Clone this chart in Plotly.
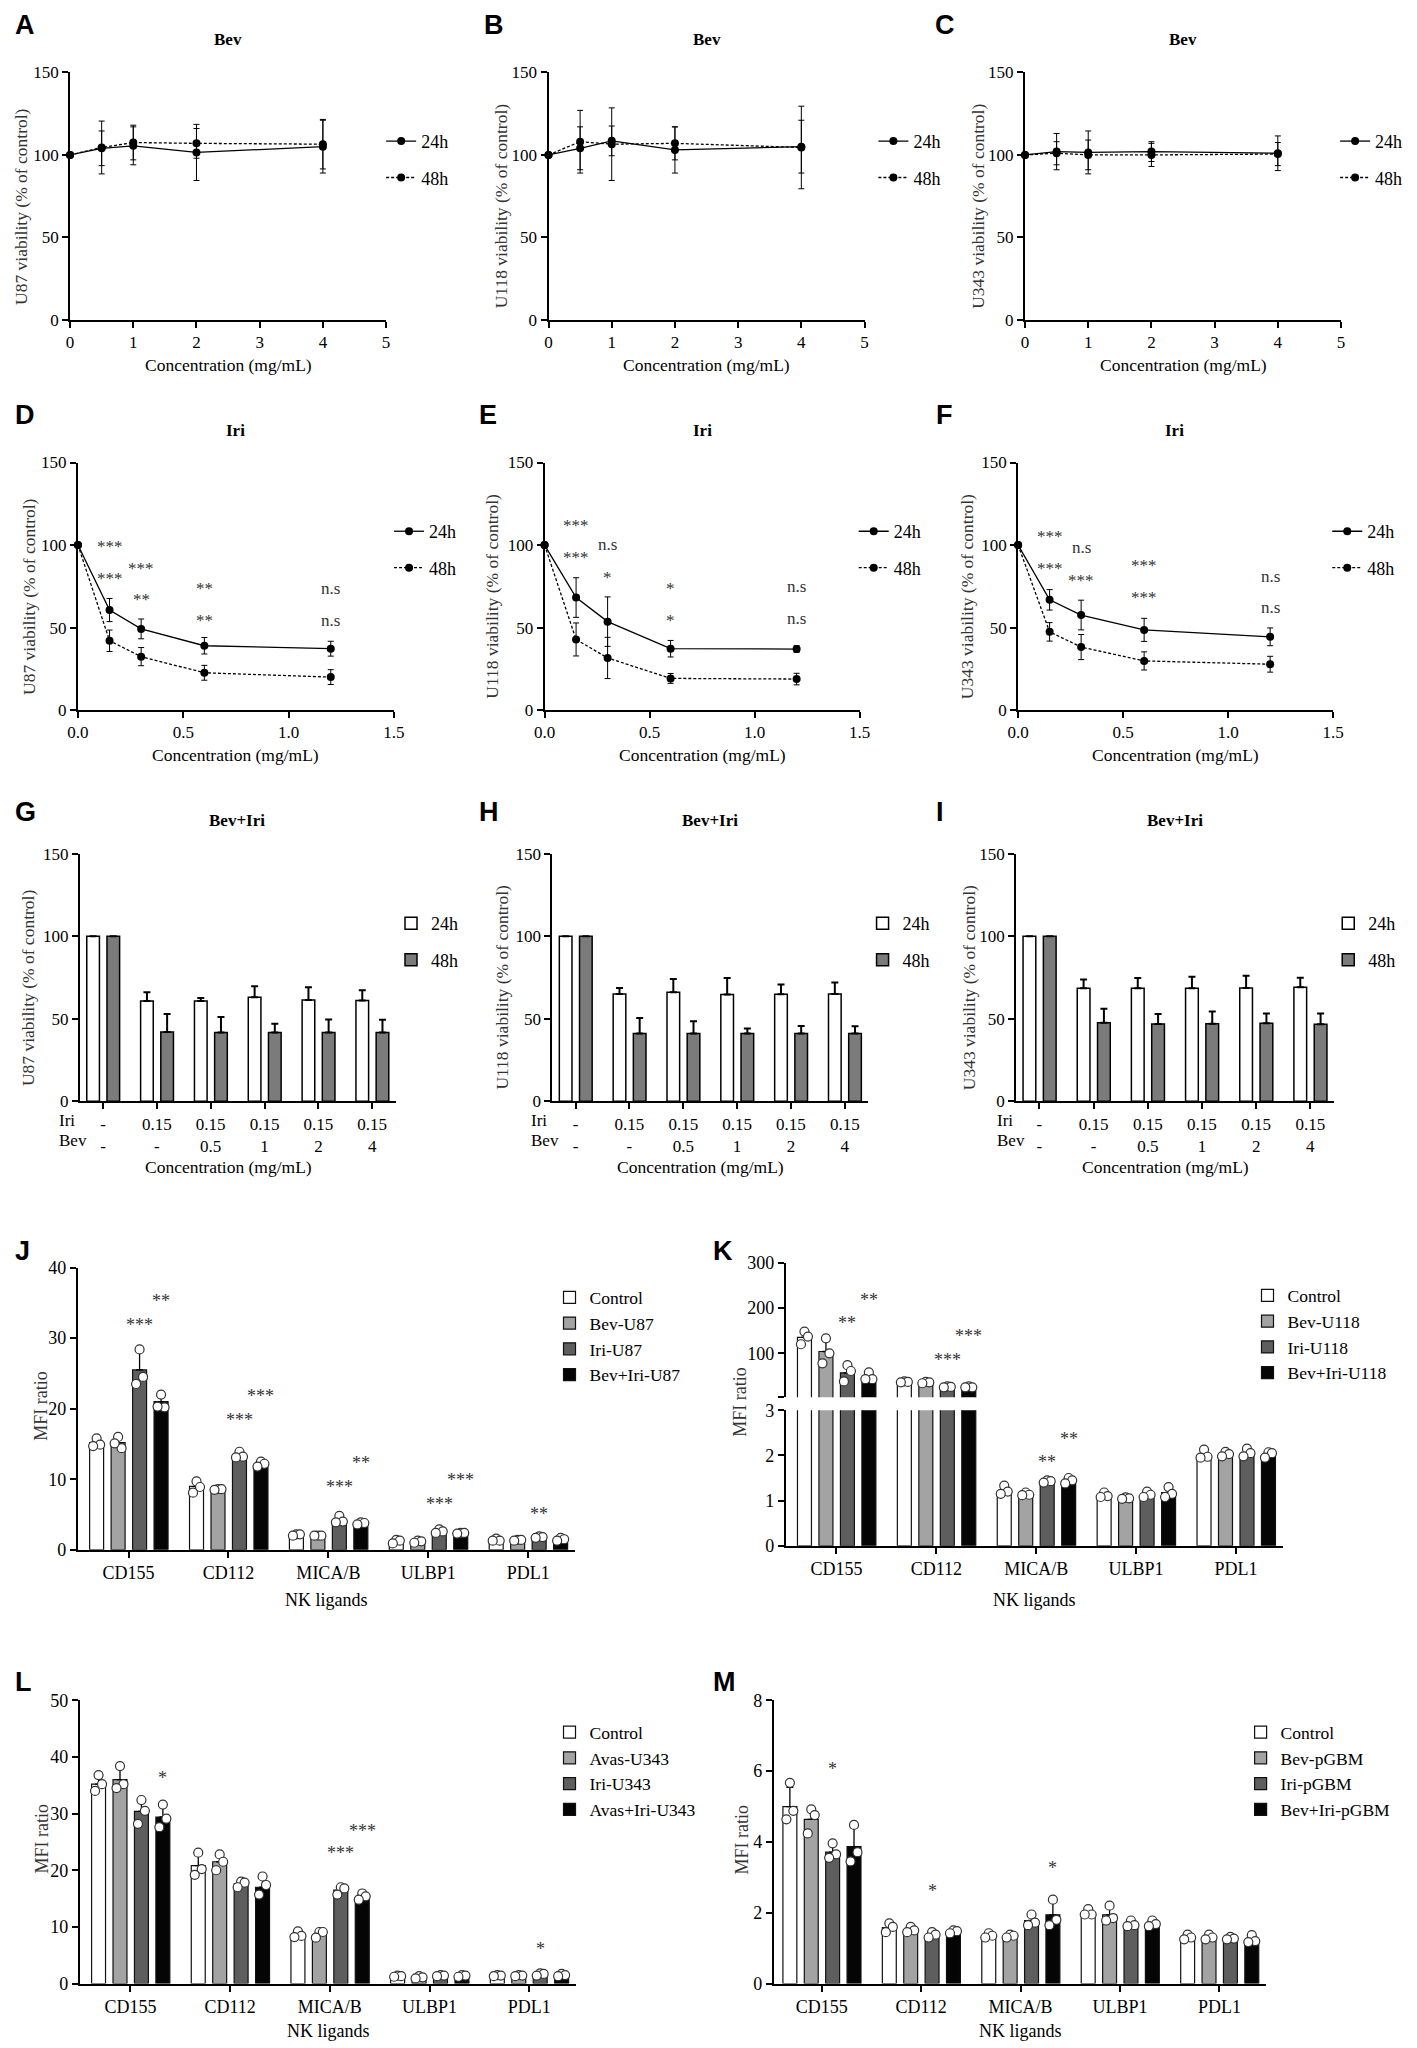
import numpy as np
import plotly.graph_objects as go

W, H = 1417, 2048
SERIF = "Liberation Serif"
SANS = "Liberation Sans"
SOFT = "#333333"

# ===================== DATA =====================
bev_conc = [0, 0.5, 1, 2, 4]
iri_conc = [0, 0.15, 0.3, 0.6, 1.2]
bev_ticks = [0, 1, 2, 3, 4, 5]
iri_ticks = [0.0, 0.5, 1.0, 1.5]
iri_tick_text = ["0.0", "0.5", "1.0", "1.5"]
via_ticks = [0, 50, 100, 150]

# Bev single-drug viability (% of control)
u87_bev_24 = [100, 104, 105.5, 101.5, 105]
u87_bev_24_sd = [0, 10.5, 11.5, 17, 16]
u87_bev_48 = [100, 104.5, 107.5, 107, 106.5]
u87_bev_48_sd = [0, 16, 10.5, 9, 15]

u118_bev_24 = [100, 104, 108.5, 103, 105]
u118_bev_24_sd = [0, 13, 9, 14, 16]
u118_bev_48 = [100, 108, 106.5, 107, 104.5]
u118_bev_48_sd = [0, 19, 22, 10, 25]

u343_bev_24 = [100, 102, 101.5, 102, 101]
u343_bev_24_sd = [0, 11, 13, 6, 10.5]
u343_bev_48 = [100, 101, 100, 100, 100.5]
u343_bev_48_sd = [0, 7, 9, 7, 7]

# Iri single-drug viability
u87_iri_24 = [100, 60.6, 49.2, 39.0, 37.2]
u87_iri_24_sd = [0, 7, 6, 5, 4.5]
u87_iri_48 = [100, 42.0, 32.4, 22.6, 20.0]
u87_iri_48_sd = [0, 6.5, 5.5, 4.5, 4.5]

u118_iri_24 = [100, 68.2, 53.6, 37.2, 37.0]
u118_iri_24_sd = [0, 12, 15, 5, 2]
u118_iri_48 = [100, 42.8, 31.6, 19.2, 18.8]
u118_iri_48_sd = [0, 10, 12.5, 3, 3.5]

u343_iri_24 = [100, 66.8, 57.6, 48.6, 44.4]
u343_iri_24_sd = [0, 6.2, 9, 7, 5.4]
u343_iri_48 = [100, 47.4, 38.2, 29.8, 27.8]
u343_iri_48_sd = [0, 5.6, 7.6, 5.5, 4.8]

# significance labels (upper row / lower row) at Iri 0.15, 0.3, 0.6, 1.2
sig_x = [0.15, 0.3, 0.6, 1.2]
u87_sig_upper = ["***", "***", "**", "n.s"]
u87_sig_lower = ["***", "**", "**", "n.s"]
u118_sig_upper = ["***", "n.s", "*", "n.s"]
u118_sig_lower = ["***", "*", "*", "n.s"]
u343_sig_upper = ["***", "n.s", "***", "n.s"]
u343_sig_lower = ["***", "***", "***", "n.s"]

# Bev+Iri combination
combo_iri = ["-", "0.15", "0.15", "0.15", "0.15", "0.15"]
combo_bev = ["-", "-", "0.5", "1", "2", "4"]
u87_combo_24 = [100, 60.8, 60.8, 63.0, 61.4, 61.0]
u87_combo_24_sd = [0, 5.2, 1.8, 6.6, 7.6, 6.2]
u87_combo_48 = [100, 42.0, 41.6, 41.6, 41.6, 41.6]
u87_combo_48_sd = [0, 10.8, 9.4, 5.4, 8.0, 7.8]
u118_combo_24 = [100, 65.0, 66.0, 64.6, 64.8, 65.0]
u118_combo_24_sd = [0, 3.6, 8.0, 10.0, 6.0, 7.0]
u118_combo_48 = [100, 41.0, 41.0, 41.0, 41.0, 41.0]
u118_combo_48_sd = [0, 9.4, 7.4, 3.0, 4.6, 4.4]
u343_combo_24 = [100, 68.4, 68.4, 68.4, 68.6, 69.0]
u343_combo_24_sd = [0, 5.4, 6.2, 7.0, 7.4, 5.8]
u343_combo_48 = [100, 47.6, 46.8, 47.0, 47.2, 46.6]
u343_combo_48_sd = [0, 8.4, 6.0, 7.4, 6.0, 6.6]

# NK ligand MFI ratios
ligands = ["CD155", "CD112", "MICA/B", "ULBP1", "PDL1"]

j_groups = ["Control", "Bev-U87", "Iri-U87", "Bev+Iri-U87"]
j_means = [[15.2, 9.0, 2.1, 1.2, 1.3],
           [15.2, 8.5, 2.0, 1.1, 1.3],
           [25.5, 13.3, 4.2, 2.6, 1.8],
           [21.0, 12.1, 3.8, 2.3, 1.5]]
j_points = [[[15.8, 14.9, 14.7], [9.7, 8.9, 8.1], [2.2, 2.2, 2.0], [1.4, 1.3, 0.9], [1.6, 1.3, 1.3]],
            [[16.0, 14.4, 15.1], [8.6, 8.6, 8.5], [2.0, 2.0, 2.0], [1.3, 1.2, 1.0], [1.4, 1.4, 1.3]],
            [[28.4, 24.5, 23.5], [13.9, 13.2, 13.1], [4.8, 4.0, 3.9], [2.9, 2.6, 2.4], [1.9, 1.8, 1.7]],
            [[22.0, 20.2, 20.3], [12.5, 12.2, 11.8], [3.9, 3.8, 3.6], [2.4, 2.4, 2.3], [1.7, 1.5, 1.3]]]
j_sig = [(0, 3, "**", 35.8), (0, 2, "***", 32.5), (1, 2, "***", 19.0), (1, 3, "***", 22.3),
         (2, 2, "***", 9.5), (2, 3, "**", 12.9), (3, 2, "***", 7.0), (3, 3, "***", 10.4),
         (4, 2, "**", 5.6)]

k_groups = ["Control", "Bev-U118", "Iri-U118", "Bev+Iri-U118"]
k_means = [[135, 36.5, 1.19, 1.11, 2.00],
           [104, 35.5, 1.13, 1.06, 2.00],
           [57, 25.8, 1.42, 1.10, 2.03],
           [45.5, 25.8, 1.44, 1.18, 2.00]]
k_points = [[[148, 137, 120], [38, 37, 36], [1.33, 1.20, 1.15], [1.18, 1.10, 1.08], [2.13, 1.97, 1.95]],
            [[133, 100, 78], [37, 36, 34], [1.18, 1.13, 1.12], [1.07, 1.05, 1.04], [2.08, 2.03, 1.98]],
            [[74, 61, 38], [27, 26, 25], [1.45, 1.43, 1.40], [1.20, 1.13, 1.08], [2.15, 2.05, 1.98]],
            [[58, 43, 43], [27, 25, 25], [1.50, 1.45, 1.38], [1.30, 1.15, 1.08], [2.07, 2.05, 1.95]]]
k_sig_top = [(0, 2, "**", 176), (0, 3, "**", 227), (1, 2, "***", 95), (1, 3, "***", 146)]
k_sig_bottom = [(2, 2, "**", 1.95), (2, 3, "**", 2.46)]

l_groups = ["Control", "Avas-U343", "Iri-U343", "Avas+Iri-U343"]
l_means = [[35.2, 20.8, 8.1, 1.2, 1.3],
           [36.0, 21.5, 8.5, 1.0, 1.3],
           [30.4, 17.6, 16.5, 1.3, 1.4],
           [29.4, 17.0, 15.1, 1.2, 1.3]]
l_points = [[[36.8, 35.2, 34.0], [23.1, 20.2, 19.2], [9.2, 8.4, 8.2], [1.4, 1.3, 1.2], [1.5, 1.4, 1.3]],
            [[38.4, 35.2, 34.5], [22.8, 21.5, 20.0], [9.1, 9.1, 8.1], [1.3, 1.1, 0.9], [1.5, 1.4, 1.3]],
            [[32.4, 30.5, 28.2], [18.0, 17.8, 17.0], [17.0, 16.8, 15.7], [1.5, 1.4, 1.3], [1.8, 1.7, 1.4]],
            [[31.6, 29.1, 27.6], [18.9, 17.4, 15.7], [15.9, 15.4, 14.8], [1.5, 1.4, 1.2], [1.7, 1.5, 1.3]]]
l_sig = [(0, 3, "*", 37.0), (2, 2, "***", 23.7), (2, 3, "***", 27.7), (4, 2, "*", 6.8)]

m_groups = ["Control", "Bev-pGBM", "Iri-pGBM", "Bev+Iri-pGBM"]
m_means = [[5.00, 1.58, 1.35, 2.00, 1.29],
           [4.64, 1.52, 1.33, 1.94, 1.27],
           [3.71, 1.35, 1.78, 1.66, 1.27],
           [3.87, 1.47, 1.94, 1.68, 1.15]]
m_points = [[[5.67, 4.88, 4.64], [1.70, 1.60, 1.45], [1.42, 1.35, 1.30], [2.10, 1.95, 1.95], [1.38, 1.30, 1.25]],
            [[4.92, 4.76, 4.24], [1.60, 1.50, 1.45], [1.38, 1.35, 1.30], [2.20, 1.85, 1.78], [1.38, 1.30, 1.25]],
            [[3.96, 3.65, 3.55], [1.45, 1.38, 1.30], [1.95, 1.72, 1.65], [1.78, 1.65, 1.62], [1.32, 1.27, 1.25]],
            [[4.48, 3.71, 3.45], [1.50, 1.48, 1.42], [2.37, 1.80, 1.65], [1.78, 1.68, 1.62], [1.37, 1.20, 1.17]]]
m_sig = [(0, 2, "*", 6.18), (1, 2, "*", 2.73), (2, 3, "*", 3.38)]

# ===================== STYLE =====================
FS_TICK = 17
FS_TITLE = 17.5
FS_LEG = 18
FS_NK = 18

fig = go.Figure()
layout = dict(width=W, height=H, margin=dict(l=0, r=0, t=0, b=0),
              paper_bgcolor="white", plot_bgcolor="white", showlegend=True,
              barmode="overlay")
annotations = []

def sfx(i):
    return "" if i == 1 else str(i)

def text(x, y, s, size=16, bold=False, family=SERIF, color="black", angle=0,
         xanchor="center", yanchor="middle", xref="paper", yref="paper", yshift=0):
    if xref == "paper":
        x = x / W
    if yref == "paper":
        y = 1 - y / H
    annotations.append(dict(x=x, y=y, xref=xref, yref=yref,
                            text=f"<b>{s}</b>" if bold else s, showarrow=False,
                            font=dict(family=family, size=size, color=color),
                            textangle=angle, xanchor=xanchor, yanchor=yanchor, yshift=yshift))

def axes(i, xd, yd, xr, yr, xtv, xtt, ytv, ytt=None, fs=FS_TICK, xvisible=True):
    s = sfx(i)
    common = dict(showline=True, linecolor="black", linewidth=2, ticks="outside",
                  ticklen=6, tickwidth=2, tickcolor="black", showgrid=False,
                  zeroline=False, fixedrange=True,
                  tickfont=dict(family=SERIF, size=fs, color="black"))
    layout["xaxis" + s] = dict(common, domain=[xd[0] / W, xd[1] / W], range=xr,
                               anchor="y" + s, tickmode="array", tickvals=xtv,
                               ticktext=xtt, visible=xvisible)
    ya = dict(common, domain=[1 - yd[1] / H, 1 - yd[0] / H], range=yr,
              anchor="x" + s, tickmode="array", tickvals=ytv)
    if ytt is not None:
        ya["ticktext"] = ytt
    layout["yaxis" + s] = ya
    return "x" + s, "y" + s

def legend_cfg(name, x, y, size, gap):
    layout[name] = dict(x=x / W, y=1 - y / H, xanchor="left", yanchor="top",
                        bgcolor="rgba(0,0,0,0)", borderwidth=0, tracegroupgap=gap,
                        itemwidth=30, font=dict(family=SERIF, size=size, color="black"))

# ===================== LINE PANELS (A-F) =====================
def line_panel(i, xd, yd, xs, y24, e24, y48, e48, xr, xtv, xtt, leg, legxy,
               title, ylabel, titlexy, ylabx):
    xa, ya = axes(i, xd, yd, xr, [0, 150], xtv, xtt, via_ticks)
    for name, ys, es, dash in [("24h", y24, e24, "solid"), ("48h", y48, e48, "3px,2px")]:
        fig.add_trace(go.Scatter(
            x=xs, y=ys, mode="lines+markers", name=name,
            line=dict(color="black", width=1.3, dash=dash),
            marker=dict(size=8, color="black"),
            error_y=dict(type="data", array=es, visible=True, color="black",
                         thickness=1, width=3),
            xaxis=xa, yaxis=ya, legend=leg, legendgroup=leg + name,
            cliponaxis=False))
    legend_cfg(leg, legxy[0], legxy[1], FS_LEG, 10)
    text(titlexy[0], titlexy[1], title, size=17, bold=True)
    text(ylabx, (yd[0] + yd[1]) / 2 + 10, ylabel, size=FS_TITLE, angle=-90, color=SOFT)
    text((xd[0] + xd[1]) / 2, yd[1] + 45, "Concentration (mg/mL)", size=FS_TITLE)
    return xa, ya

def sig_labels(xa, ya, upper, lower, yu, yl):
    for x, s, y in zip(sig_x, upper, yu):
        text(x, y, s, size=17, color=SOFT, xref=xa, yref=ya,
             yshift=-4 if "*" in s else 0)
    for x, s, y in zip(sig_x, lower, yl):
        text(x, y, s, size=17, color=SOFT, xref=xa, yref=ya,
             yshift=-4 if "*" in s else 0)

bt = [str(v) for v in bev_ticks]
line_panel(1, (60, 381), (63, 313), bev_conc, u87_bev_24, u87_bev_24_sd, u87_bev_48,
           u87_bev_48_sd, [0, 5], bev_ticks, bt, "legend", (376, 114), "Bev",
           "U87 viability (% of control)", (220, 30), 10)
line_panel(2, (546, 867), (63, 313), bev_conc, u118_bev_24, u118_bev_24_sd, u118_bev_48,
           u118_bev_48_sd, [0, 5], bev_ticks, bt, "legend2", (876, 114), "Bev",
           "U118 viability (% of control)", (707, 30), 498)
line_panel(3, (1030, 1351), (63, 313), bev_conc, u343_bev_24, u343_bev_24_sd, u343_bev_48,
           u343_bev_48_sd, [0, 5], bev_ticks, bt, "legend3", (1345, 114), "Bev",
           "U343 viability (% of control)", (1190, 30), 982)

xa, ya = line_panel(4, (68, 389), (457, 707), iri_conc, u87_iri_24, u87_iri_24_sd, u87_iri_48,
                    u87_iri_48_sd, [0, 1.5], iri_ticks, iri_tick_text, "legend4", (384, 508),
                    "Iri", "U87 viability (% of control)", (228, 425), 18)
sig_labels(xa, ya, u87_sig_upper, u87_sig_lower, [101.8, 88.4, 76.2, 73.4], [82.4, 69.4, 57.0, 54.0])
xa, ya = line_panel(5, (542, 862), (457, 707), iri_conc, u118_iri_24, u118_iri_24_sd, u118_iri_48,
                    u118_iri_48_sd, [0, 1.5], iri_ticks, iri_tick_text, "legend5", (856, 508),
                    "Iri", "U118 viability (% of control)", (702, 425), 489)
sig_labels(xa, ya, u118_sig_upper, u118_sig_lower, [114.4, 100.4, 76.0, 74.8], [95.0, 83.0, 57.0, 55.4])
xa, ya = line_panel(6, (1023, 1343), (457, 707), iri_conc, u343_iri_24, u343_iri_24_sd, u343_iri_48,
                    u343_iri_48_sd, [0, 1.5], iri_ticks, iri_tick_text, "legend6", (1337, 508),
                    "Iri", "U343 viability (% of control)", (1182, 425), 971)
sig_labels(xa, ya, u343_sig_upper, u343_sig_lower, [107.4, 98.4, 90.0, 81.0], [88.0, 81.2, 70.4, 62.0])

# ===================== COMBINATION BARS (G-I) =====================
def combo_panel(i, xd, yd, y24, e24, y48, e48, leg, legxy, ylabel, titlex, ylabx, rowx):
    n = len(combo_iri)
    idx = np.arange(n)
    tt = [f"{a}<br>{b}" for a, b in zip(combo_iri, combo_bev)]
    xa, ya = axes(i, xd, yd, [-0.43, n - 0.56], [0, 150], [int(v) for v in idx], tt, via_ticks)
    for name, ys, es, off, col in [("24h", y24, e24, -0.185, "#ffffff"),
                                   ("48h", y48, e48, 0.19, "#7b7b7b")]:
        fig.add_trace(go.Bar(
            x=idx + off, y=ys, width=0.235, name=name,
            marker=dict(color=col, line=dict(color="black", width=1.5)),
            error_y=dict(type="data", array=es, arrayminus=[0] * n, symmetric=False,
                         visible=True, color="black", thickness=2, width=3.5),
            xaxis=xa, yaxis=ya, legend=leg, legendgroup=leg + name))
    legend_cfg(leg, legxy[0], legxy[1], FS_LEG, 10)
    text(titlex, 818, "Bev+Iri", size=17, bold=True)
    text(ylabx, (yd[0] + yd[1]) / 2 + 10, ylabel, size=FS_TITLE, angle=-90, color=SOFT)
    text((xd[0] + xd[1]) / 2 - 10, 1168, "Concentration (mg/mL)", size=FS_TITLE)
    text(rowx, 1121, "Iri", size=FS_TICK, xanchor="left")
    text(rowx, 1142, "Bev", size=FS_TICK, xanchor="left")

combo_panel(7, (70, 391), (852, 1102), u87_combo_24, u87_combo_24_sd, u87_combo_48,
            u87_combo_48_sd, "legend7", (386, 904), "U87 viability (% of control)", 230, 18, 47)
combo_panel(8, (550, 871), (852, 1102), u118_combo_24, u118_combo_24_sd, u118_combo_48,
            u118_combo_48_sd, "legend8", (865, 904), "U118 viability (% of control)", 710, 499, 526)
combo_panel(9, (1021, 1344), (852, 1102), u343_combo_24, u343_combo_24_sd, u343_combo_48,
            u343_combo_48_sd, "legend9", (1338, 904), "U343 viability (% of control)", 1182, 973, 1000)

# ===================== NK LIGAND BARS (J-M) =====================
grp_off = [-0.32, -0.105, 0.11, 0.325]
grp_col = ["#ffffff", "#a3a3a3", "#5e5e5e", "#050505"]
jit = [0.0, 0.035, -0.035]
nk_range = [-0.507, 4.47]

def nk_traces(xa, ya, groups, means, points, leg, show, floor=None):
    n = len(ligands)
    idx = np.arange(n)
    for g, name in enumerate(groups):
        sd = [float(np.std(p, ddof=1)) for p in points[g]]
        ys = list(means[g])
        if floor is not None:
            ys = [v if v > floor else None for v in ys]
        fig.add_trace(go.Bar(
            x=idx + grp_off[g], y=ys, width=0.14, name=name,
            marker=dict(color=grp_col[g], line=dict(color="#111111", width=1.2)),
            error_y=dict(type="data", array=sd, arrayminus=[0] * n, symmetric=False,
                         visible=True, color="black", thickness=1.3, width=3.5),
            xaxis=xa, yaxis=ya, legend=leg, legendgroup=leg + name, showlegend=show))
    for g in range(len(groups)):
        px_, py_ = [], []
        for c in range(n):
            for r, v in enumerate(points[g][c]):
                if floor is not None and v <= floor:
                    continue
                px_.append(c + grp_off[g] + jit[r])
                py_.append(v)
        fig.add_trace(go.Scatter(
            x=px_, y=py_, mode="markers", showlegend=False,
            marker=dict(size=9, color="white", line=dict(color="#333333", width=1.2)),
            xaxis=xa, yaxis=ya))

def nk_sig(xa, ya, sigs):
    for c, g, s, y in sigs:
        text(c + grp_off[g], y, s, size=FS_NK, color=SOFT, xref=xa, yref=ya, yshift=-4)

def nk_labels(xd, leg, legxy, ylabx, ytitle_y, xtitle_y):
    legend_cfg(leg, legxy[0], legxy[1], 17.5, 0)
    text(ylabx, ytitle_y, "MFI ratio", size=FS_NK, angle=-90, color=SOFT)
    text((xd[0] + xd[1]) / 2, xtitle_y, "NK ligands", size=FS_NK)

tick5 = list(range(len(ligands)))

# J
xa, ya = axes(10, (68, 573), (1270, 1555), nk_range, [0, 40], tick5, ligands,
              [0, 10, 20, 30, 40], fs=FS_NK)
nk_traces(xa, ya, j_groups, j_means, j_points, "legend10", True)
nk_sig(xa, ya, j_sig)
nk_labels((68, 573), "legend10", (547, 1282), 31, 1410, 1606)

# K (broken axis)
xa, ya = axes(11, (787, 1292), (1414, 1551), nk_range, [0, 3], tick5, ligands,
              [0, 1, 2, 3], fs=FS_NK)
xt, yt = axes(12, (787, 1292), (1265, 1401), nk_range, [3, 300], tick5, ligands,
              [3, 100, 200, 300], ["", "100", "200", "300"], fs=FS_NK, xvisible=False)
nk_traces(xa, ya, k_groups, k_means, k_points, "legend11", True)
nk_traces(xt, yt, k_groups, k_means, k_points, "legend11", False, floor=3)
nk_sig(xt, yt, k_sig_top)
nk_sig(xa, ya, k_sig_bottom)
nk_labels((787, 1292), "legend11", (1256, 1280), 741, 1405, 1606)

# L
xa, ya = axes(13, (70, 574), (1707, 1993), nk_range, [0, 50], tick5, ligands,
              [0, 10, 20, 30, 40, 50], fs=FS_NK)
nk_traces(xa, ya, l_groups, l_means, l_points, "legend12", True)
nk_sig(xa, ya, l_sig)
nk_labels((70, 574), "legend12", (547, 1721), 31, 1847, 2041)

# M
xa, ya = axes(14, (775, 1275), (1707, 1993), [-0.48, 4.47], [0, 8], tick5, ligands,
              [0, 2, 4, 6, 8], fs=FS_NK)
nk_traces(xa, ya, m_groups, m_means, m_points, "legend13", True)
nk_sig(xa, ya, m_sig)
nk_labels((775, 1275), "legend13", (1249, 1721), 742, 1847, 2041)

# ===================== PANEL LETTERS =====================
for letter, x, y in [("A", 2, 15), ("B", 478, 15), ("C", 937, 15),
                     ("D", 2, 409), ("E", 473, 409), ("F", 938, 409),
                     ("G", 2, 810), ("H", 473, 810), ("I", 938, 810),
                     ("J", 2, 1253), ("K", 711, 1253), ("L", 2, 1688), ("M", 711, 1688)]:
    text(x, y, letter, size=27, bold=True, family=SANS, xanchor="left")

layout["annotations"] = annotations
fig.update_layout(**layout)
fig.write_html("out.html", config={"displayModeBar": False},
               post_script="document.body.style.margin='0px';document.body.style.overflow='hidden';")
